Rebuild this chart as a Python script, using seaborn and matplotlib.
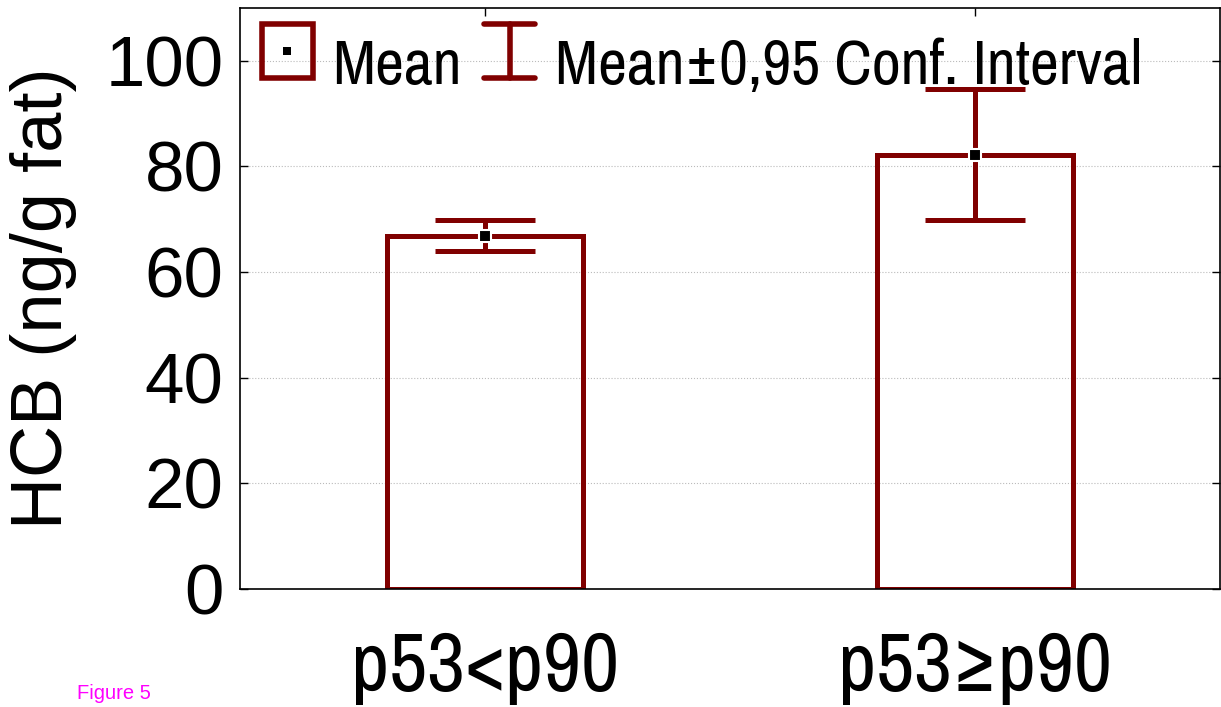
import matplotlib
matplotlib.use("Agg")
import matplotlib.pyplot as plt
from matplotlib.lines import Line2D
from matplotlib.patches import Rectangle
from matplotlib.legend_handler import HandlerBase
import seaborn as sns
import pandas as pd

# values
groups = ["p53<p90", "p53\u2265p90"]
means = [66.8, 82.2]
ci_low = [63.9, 69.8]
ci_high = [69.9, 94.7]

dark_red = "#800000"
narrow = ["Archivo Narrow", "DejaVu Sans"]

sns.set_style("white")
plt.rcParams["font.family"] = ["Liberation Sans", "DejaVu Sans"]
plt.rcParams["text.color"] = "black"
plt.rcParams["axes.labelcolor"] = "black"
plt.rcParams["xtick.color"] = "black"
plt.rcParams["ytick.color"] = "black"


class MeanBoxHandler(HandlerBase):
    def create_artists(self, legend, orig, x0, y0, w, h, fontsize, trans):
        r = Rectangle((x0, y0), w, h, fill=False, ec=dark_red, lw=4,
                      joinstyle="miter", transform=trans)
        d = w * 0.16
        dot = Rectangle((x0 + w / 2 - d / 2, y0 + h / 2 - d / 2), d, d,
                        fc="black", ec="none", transform=trans)
        return [r, dot]


class ErrHandler(HandlerBase):
    def create_artists(self, legend, orig, x0, y0, w, h, fontsize, trans):
        kw = dict(color=dark_red, lw=4, solid_capstyle="round", transform=trans)
        xm = x0 + w / 2
        return [Line2D([xm, xm], [y0, y0 + h], **kw),
                Line2D([x0, x0 + w], [y0, y0], **kw),
                Line2D([x0, x0 + w], [y0 + h, y0 + h], **kw)]


df = pd.DataFrame({"group": groups, "mean": means})

fig = plt.figure(figsize=(12.21, 7.07), dpi=100)
ax = fig.add_axes([0.1966, 0.1669, 0.8026, 0.8218])

sns.barplot(data=df, x="group", y="mean", ax=ax, fill=False, color=dark_red,
            width=0.4, linewidth=3.6, err_kws={"linewidth": 0})
for p in ax.patches:
    p.set_edgecolor(dark_red)
    p.set_joinstyle("miter")

yerr = [[m - lo for m, lo in zip(means, ci_low)],
        [hi - m for m, hi in zip(means, ci_high)]]
ax.errorbar(range(len(groups)), means, yerr=yerr, fmt="none",
            ecolor=dark_red, elinewidth=3.6, capsize=36, capthick=3.6,
            zorder=3)
ax.plot(range(len(groups)), means, ls="none", marker="s", ms=8,
        mfc="black", mec="white", mew=1.5, zorder=4)

ax.set_xlim(-0.5, 1.5)
ax.set_ylim(0, 110)
ax.set_yticks([0, 20, 40, 60, 80, 100])
ax.yaxis.grid(True, color="#bbbbbb", ls=":", lw=0.8)
ax.set_axisbelow(True)
for s in ax.spines.values():
    s.set_color("black")
    s.set_linewidth(1.2)
ax.tick_params(axis="y", direction="in", length=6, width=1, labelsize=51,
               right=True, left=True, pad=12)
ax.tick_params(axis="x", direction="in", length=6, width=1, top=True,
               bottom=False, pad=30)
for lab in ax.get_xticklabels():
    lab.set_fontfamily(narrow)
    lab.set_fontsize(60)
ax.set_xlabel("")
ax.set_ylabel("HCB (ng/g fat)", fontsize=52, labelpad=20)

# legend
h_mean = Rectangle((0, 0), 1, 1)
h_err = Line2D([], [])
ax.legend([h_mean, h_err], ["Mean", "Mean\u00b10,95 Conf. Interval"],
          handler_map={Rectangle: MeanBoxHandler(), Line2D: ErrHandler()},
          loc="upper left", bbox_to_anchor=(262 / 1221, 1 - 35 / 707),
          bbox_transform=fig.transFigure, frameon=False,
          ncol=2, prop={"family": narrow, "size": 45.5},
          handlelength=0.8, handleheight=0.94, handletextpad=0.31,
          columnspacing=0.36, borderaxespad=0, borderpad=0)

fig.text(0.063, 0.012, "Figure 5", color="#ff00ff", fontsize=14.5)

fig.savefig("out.png", dpi=100)
